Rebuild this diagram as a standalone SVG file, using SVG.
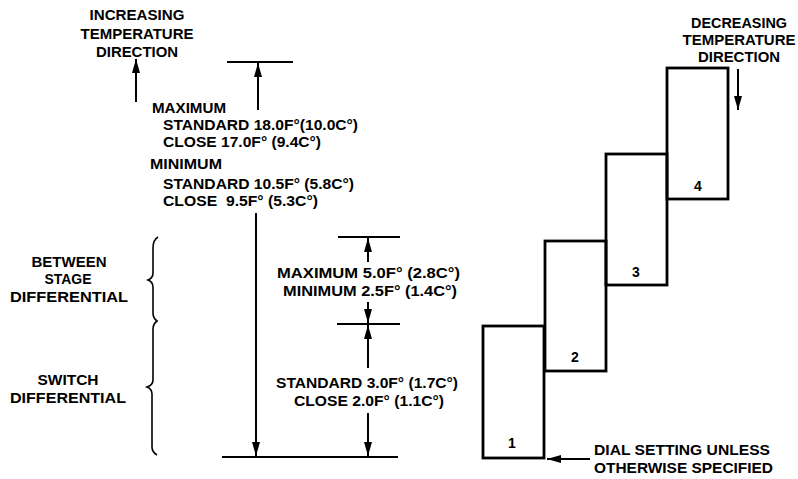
<svg xmlns="http://www.w3.org/2000/svg" width="798" height="479" viewBox="0 0 798 479">
<defs>
<marker id="ah" viewBox="0 0 14 8" refX="14" refY="4" markerWidth="15" markerHeight="8" markerUnits="userSpaceOnUse" orient="auto">
<path d="M0,0 L14,4 L0,8 Z" fill="#000"/>
</marker>
<style>
text{font-family:"Liberation Sans",Arial,sans-serif;fill:#000;font-weight:bold;}
.h{font-size:15px;text-anchor:middle;}
.t{font-size:15px;}
.n{font-size:14px;text-anchor:middle;}
.ln{stroke:#000;stroke-width:1.8;fill:none;}
.ar{stroke:#000;stroke-width:2;fill:none;marker-end:url(#ah);}
.box{stroke:#000;stroke-width:2.8;fill:none;}
.br{stroke:#000;stroke-width:1.6;fill:none;}
</style>
</defs>
<rect width="798" height="479" fill="#fff"/>

<g id="increasing-label">
<text class="h" x="137" y="20" textLength="95" lengthAdjust="spacingAndGlyphs">INCREASING</text>
<text class="h" x="137" y="39" textLength="113" lengthAdjust="spacingAndGlyphs">TEMPERATURE</text>
<text class="h" x="137" y="57" textLength="82" lengthAdjust="spacingAndGlyphs">DIRECTION</text>
</g>

<g id="decreasing-label">
<text class="h" x="739" y="28" textLength="96" lengthAdjust="spacingAndGlyphs">DECREASING</text>
<text class="h" x="739" y="45" textLength="113" lengthAdjust="spacingAndGlyphs">TEMPERATURE</text>
<text class="h" x="739" y="62" textLength="82" lengthAdjust="spacingAndGlyphs">DIRECTION</text>
</g>

<g id="total-differential-label">
<text class="t" x="152" y="113" textLength="74" lengthAdjust="spacingAndGlyphs">MAXIMUM</text>
<text class="t" x="163" y="130" textLength="195" lengthAdjust="spacingAndGlyphs">STANDARD 18.0F°(10.0C°)</text>
<text class="t" x="163" y="147" textLength="158" lengthAdjust="spacingAndGlyphs">CLOSE 17.0F° (9.4C°)</text>
<text class="t" x="150" y="169" textLength="72" lengthAdjust="spacingAndGlyphs">MINIMUM</text>
<text class="t" x="163" y="189" textLength="191" lengthAdjust="spacingAndGlyphs">STANDARD 10.5F° (5.8C°)</text>
<text class="t" x="163" y="206" textLength="155" lengthAdjust="spacingAndGlyphs" xml:space="preserve">CLOSE  9.5F° (5.3C°)</text>
</g>

<g id="between-stage-label">
<text class="h" x="69" y="267" textLength="75" lengthAdjust="spacingAndGlyphs">BETWEEN</text>
<text class="h" x="68" y="284" textLength="47" lengthAdjust="spacingAndGlyphs">STAGE</text>
<text class="h" x="69" y="302" textLength="118" lengthAdjust="spacingAndGlyphs">DIFFERENTIAL</text>
</g>

<g id="switch-label">
<text class="h" x="68" y="385" textLength="61" lengthAdjust="spacingAndGlyphs">SWITCH</text>
<text class="h" x="68" y="403" textLength="116" lengthAdjust="spacingAndGlyphs">DIFFERENTIAL</text>
</g>

<g id="between-stage-values">
<text class="t" x="277" y="278" textLength="183" lengthAdjust="spacingAndGlyphs">MAXIMUM 5.0F° (2.8C°)</text>
<text class="t" x="283" y="296" textLength="174" lengthAdjust="spacingAndGlyphs">MINIMUM 2.5F° (1.4C°)</text>
</g>

<g id="switch-values">
<text class="t" x="276" y="388" textLength="182" lengthAdjust="spacingAndGlyphs">STANDARD 3.0F° (1.7C°)</text>
<text class="t" x="294" y="406" textLength="150" lengthAdjust="spacingAndGlyphs">CLOSE 2.0F° (1.1C°)</text>
</g>

<g id="dial-label">
<text class="t" x="594" y="455" textLength="176" lengthAdjust="spacingAndGlyphs">DIAL SETTING UNLESS</text>
<text class="t" x="594" y="473" textLength="179" lengthAdjust="spacingAndGlyphs">OTHERWISE SPECIFIED</text>
</g>

<g id="braces">
<path class="br" d="M158,237 Q153,240 153,248 L153,273 Q153,278 148,280 Q153,282 153,287 L153,313 Q153,318 157,321 Q153,324 153,329 L153,380 Q153,385 147,387 Q152,389 152,394 L152,447 Q152,452 157,455"/>
</g>

<g id="stage-1"><rect class="box" x="483" y="326" width="61" height="132"/><text class="n" x="512" y="448">1</text></g>
<g id="stage-2"><rect class="box" x="545" y="241" width="61" height="130"/><text class="n" x="575" y="362">2</text></g>
<g id="stage-3"><rect class="box" x="606" y="154" width="61" height="131"/><text class="n" x="636" y="277">3</text></g>
<g id="stage-4"><rect class="box" x="667" y="68" width="61" height="131"/><text class="n" x="698" y="191">4</text></g>

<g id="connectors">
<line class="ar" x1="136" y1="102" x2="136" y2="59"/>
<line class="ln" x1="227" y1="62" x2="293" y2="62"/>
<line class="ar" x1="258" y1="110" x2="258" y2="63"/>
<line class="ar" x1="256" y1="213" x2="256" y2="456"/>
<line class="ln" x1="222" y1="457" x2="398" y2="457"/>
<line class="ln" x1="338" y1="237" x2="400" y2="237"/>
<line class="ar" x1="368" y1="262" x2="368" y2="238"/>
<line class="ar" x1="368" y1="302" x2="368" y2="323"/>
<line class="ln" x1="337" y1="324" x2="400" y2="324"/>
<line class="ar" x1="368" y1="368" x2="368" y2="325"/>
<line class="ar" x1="368" y1="413" x2="368" y2="456"/>
<line class="ar" x1="738" y1="69" x2="738" y2="110"/>
<line class="ar" x1="590" y1="459" x2="547" y2="459"/>
</g>
</svg>
